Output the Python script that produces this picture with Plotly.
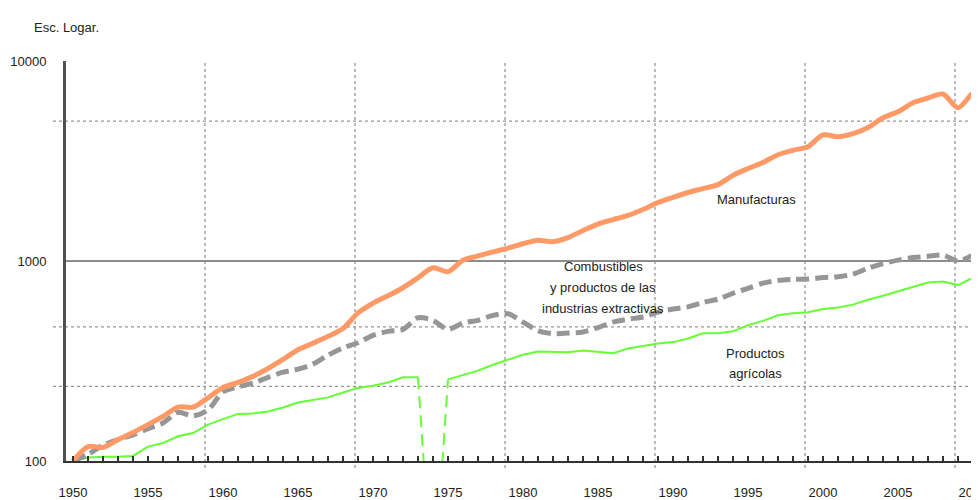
import plotly.graph_objects as go

years = list(range(1950, 2012))

manufacturas = [100, 118, 117, 128, 139, 152, 167, 186, 186, 207,
                233, 247, 265, 290, 322, 360, 388, 420, 460, 550,
                615, 670, 735, 825, 925, 885, 1010, 1060, 1110, 1160,
                1220, 1270, 1250, 1310, 1420, 1530, 1610, 1690, 1810, 1960,
                2080, 2200, 2300, 2410, 2680, 2900, 3110, 3400, 3580, 3730,
                4270, 4180, 4330, 4650, 5200, 5570, 6180, 6530, 6840, 5840,
                6900, 7300]

combustibles = [100, 108, 120, 128, 135, 145, 155, 175, 168, 180,
                222, 235, 245, 262, 278, 288, 305, 338, 368, 390,
                425, 445, 455, 520, 505, 455, 490, 505, 535, 545,
                495, 448, 433, 436, 442, 465, 495, 512, 525, 555,
                575, 590, 620, 645, 690, 730, 775, 800, 810, 812,
                826, 835, 860, 920, 970, 1010, 1040, 1055, 1070, 1000,
                1065, 1090]

agricolas = [100, 104, 105, 105, 106, 118, 123, 133, 138, 152,
             162, 172, 173, 177, 185, 196, 202, 208, 220, 232,
             238, 247, 262, 262, None, 256, 270, 283, 303, 321,
             340, 353, 350, 350, 357, 352, 346, 365, 375, 387,
             393, 410, 435, 435, 445, 478, 502, 535, 548, 555,
             575, 585, 605, 640, 670, 705, 745, 780, 790, 758,
             826, 880]

gap_years = [1973, 1974, 1975]
gap_values = [262, 20, 256]

x_ticks = list(range(1950, 2011, 5))
y_ticks = [100, 1000, 10000]
y_tick_text = ["100", "1000", "10000"]

grid_x = [1958.8, 1968.8, 1978.8, 1988.8, 1998.8, 2008.8]
grid_y = [5000, 468, 236]

FONT = "Liberation Sans, Arial, sans-serif"
TXT = "#222222"

# page body has an 8px margin; figure is placed at (8, 8)
OFF = 8
W, H = 979 - OFF, 500 - OFF
PL, PT, PW, PH = 66 - OFF, 61 - OFF, 913, 400

fig = go.Figure()
fig.add_trace(go.Scatter(x=years, y=agricolas, mode="lines",
                         line=dict(color="rgb(102,255,51)", width=2),
                         connectgaps=False, showlegend=False, hoverinfo="skip"))
fig.add_trace(go.Scatter(x=gap_years, y=gap_values, mode="lines",
                         line=dict(color="rgb(102,255,51)", width=2, dash="12px,7px"),
                         showlegend=False, hoverinfo="skip"))
fig.add_trace(go.Scatter(x=years, y=combustibles, mode="lines",
                         line=dict(color="rgb(150,150,150)", width=5, dash="13px,6px",
                                   shape="spline", smoothing=0.8),
                         showlegend=False, hoverinfo="skip"))
fig.add_trace(go.Scatter(x=years, y=manufacturas, mode="lines",
                         line=dict(color="rgb(255,153,102)", width=5,
                                   shape="spline", smoothing=0.8),
                         showlegend=False, hoverinfo="skip"))


def px_to_paper_x(px):
    return (px - OFF - PL) / float(PW)


def px_to_paper_y(py):
    return (PT + PH - (py - OFF)) / float(PH)


shapes = []
for gx in grid_x:
    shapes.append(dict(type="line", xref="x", yref="paper", x0=gx, x1=gx,
                       y0=px_to_paper_y(468), y1=1, layer="below",
                       line=dict(color="rgb(150,150,150)", width=1.3, dash="dot")))
for gy in grid_y:
    shapes.append(dict(type="line", xref="paper", yref="y",
                       x0=px_to_paper_x(53), x1=px_to_paper_x(972),
                       y0=gy, y1=gy, layer="below",
                       line=dict(color="rgb(150,150,150)", width=1.3, dash="dot")))

anns = [
    dict(text="Esc. Logar.", x=px_to_paper_x(32), y=px_to_paper_y(27), xanchor="left"),
    dict(text="Manufacturas", x=px_to_paper_x(756), y=px_to_paper_y(199), xanchor="center"),
    dict(text="Combustibles", x=px_to_paper_x(603), y=px_to_paper_y(266), xanchor="center"),
    dict(text="y productos de las", x=px_to_paper_x(603), y=px_to_paper_y(287), xanchor="center"),
    dict(text="industrias extractivas", x=px_to_paper_x(603), y=px_to_paper_y(308), xanchor="center"),
    dict(text="Productos", x=px_to_paper_x(755), y=px_to_paper_y(353), xanchor="center"),
    dict(text="agrícolas", x=px_to_paper_x(755), y=px_to_paper_y(373), xanchor="center"),
]
for a in anns:
    a.update(xref="paper", yref="paper", yanchor="middle", showarrow=False,
             font=dict(family=FONT, size=13, color=TXT))

fig.update_layout(
    width=W, height=H,
    margin=dict(l=PL, r=W - PL - PW, t=PT, b=H - PT - PH, autoexpand=False),
    paper_bgcolor="white", plot_bgcolor="white",
    font=dict(family=FONT, size=13, color=TXT),
    shapes=shapes, annotations=anns,
)

fig.update_xaxes(
    automargin=False,
    range=[1949.533, 1949.533 + PW / 15.0],
    tickmode="array", tickvals=x_ticks, ticktext=[str(v) for v in x_ticks],
    showgrid=False, zeroline=False,
    showline=True, linecolor="rgb(50,50,50)", linewidth=2,
    ticks="inside", ticklen=5, tickwidth=1.5, tickcolor="rgb(50,50,50)",
    minor=dict(ticks="inside", dtick=1, tick0=1950, ticklen=5, tickwidth=1.5,
               tickcolor="rgb(50,50,50)", showgrid=False),
    ticklabelstandoff=18, ticklabeloverflow="allow",
    tickfont=dict(family=FONT, size=13, color=TXT),
)
fig.update_yaxes(
    automargin=False,
    type="log", range=[2, 4],
    tickmode="array", tickvals=y_ticks, ticktext=y_tick_text,
    showgrid=True, gridcolor="rgb(140,140,140)", gridwidth=2,
    zeroline=False,
    showline=True, linecolor="rgb(80,80,80)", linewidth=3,
    ticks="", ticklabelstandoff=14, ticklabeloverflow="allow",
    tickfont=dict(family=FONT, size=13, color=TXT),
)

fig.write_html("out.html")
